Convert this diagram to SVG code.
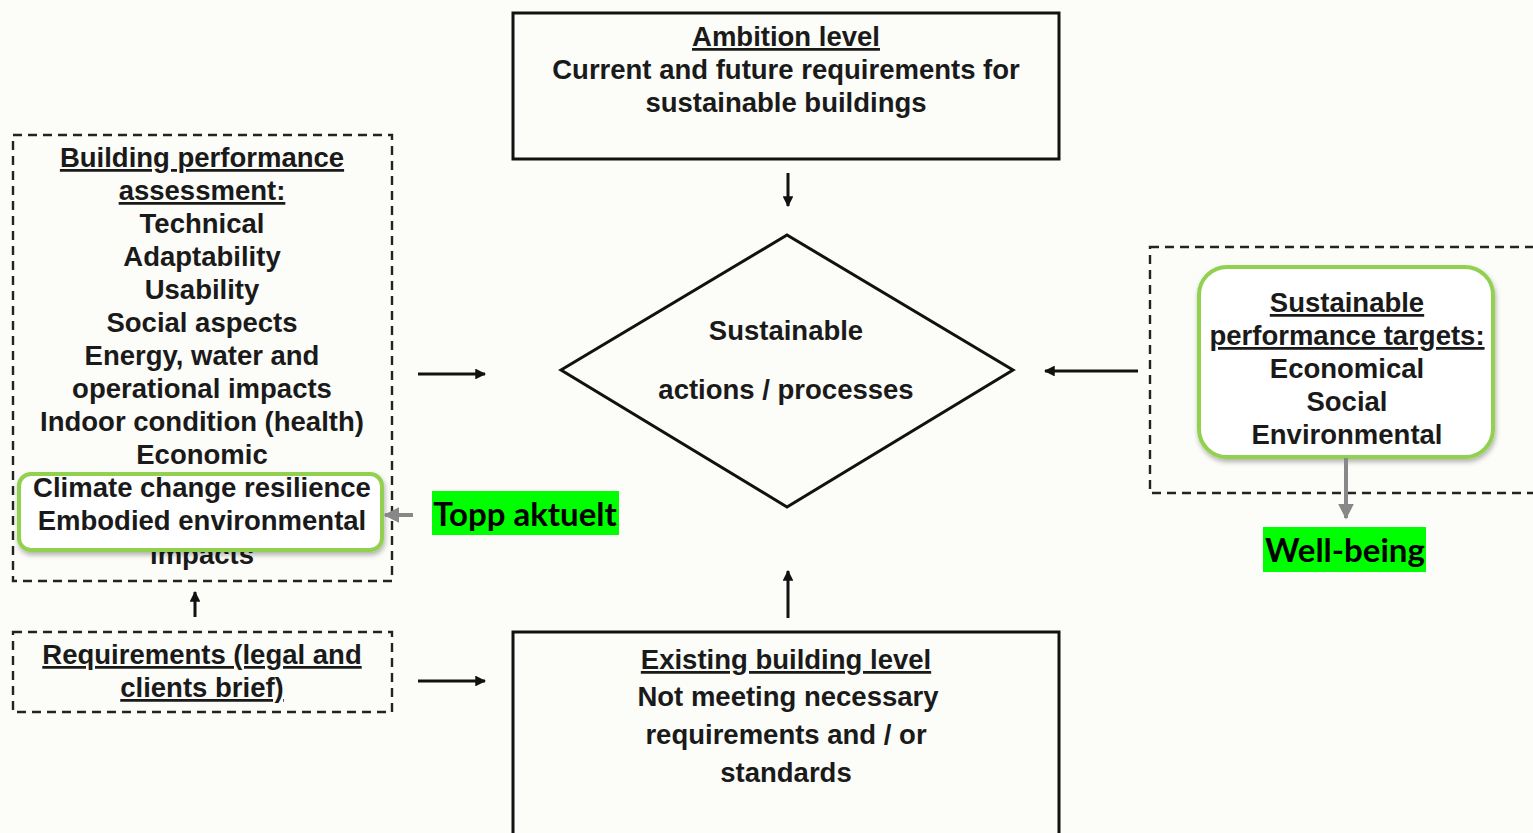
<svg xmlns="http://www.w3.org/2000/svg" width="1533" height="833" viewBox="0 0 1533 833">
<style>
.t{font-family:"Liberation Sans",Arial,sans-serif;font-weight:bold;font-size:27.5px;fill:#1a1a1a;text-anchor:middle}
.u{text-decoration:underline}
.box{fill:none;stroke:#111;stroke-width:3}
.dash{fill:none;stroke:#222;stroke-width:2.4;stroke-dasharray:9 6}
.green{fill:#fff;stroke:#92d050;stroke-width:4;filter:url(#sh)}
.con{stroke:#111;stroke-width:3;fill:none;marker-end:url(#ah)}
.gcon{stroke:#888;stroke-width:4;fill:none;marker-end:url(#gh)}
.hl{font-family:"Lato","Open Sans",sans-serif;font-weight:bold;font-size:33px;fill:#000;text-anchor:middle}
</style>
<defs>
<marker id="ah" viewBox="0 0 10 10" refX="9" refY="5" markerWidth="3.6" markerHeight="3.6" orient="auto" markerUnits="strokeWidth"><path d="M0,0 L10,5 L0,10 z" fill="#111"/></marker>
<marker id="gh" viewBox="0 0 10 10" refX="9" refY="5" markerWidth="4" markerHeight="4" orient="auto" markerUnits="strokeWidth"><path d="M0,0 L10,5 L0,10 z" fill="#888"/></marker>
<filter id="sh" x="-10%" y="-10%" width="120%" height="130%"><feDropShadow dx="1" dy="3" stdDeviation="2.5" flood-color="#000" flood-opacity="0.3"/></filter>
</defs>
<rect width="1533" height="833" fill="#fcfcf8"/>

<g id="ambition">
<rect class="box" x="513" y="13" width="546" height="146"/>
<text class="t u" x="786" y="46">Ambition level</text>
<text class="t" x="786" y="79">Current and future requirements for</text>
<text class="t" x="786" y="112">sustainable buildings</text>
</g>

<g id="actions">
<polygon class="box" points="561,370 787,235 1013,370 787,507"/>
<text class="t" x="786" y="340">Sustainable</text>
<text class="t" x="786" y="399">actions / processes</text>
</g>

<g id="assessment">
<rect class="dash" x="13" y="135" width="379" height="446"/>
<text class="t u" x="202" y="167">Building performance</text>
<text class="t u" x="202" y="200">assessment:</text>
<text class="t" x="202" y="233">Technical</text>
<text class="t" x="202" y="266">Adaptability</text>
<text class="t" x="202" y="299">Usability</text>
<text class="t" x="202" y="332">Social aspects</text>
<text class="t" x="202" y="365">Energy, water and</text>
<text class="t" x="202" y="398">operational impacts</text>
<text class="t" x="202" y="431">Indoor condition (health)</text>
<text class="t" x="202" y="464">Economic</text>
<text class="t" x="202" y="564">impacts</text>
<rect class="green" x="19" y="474" width="363" height="76" rx="12"/>
<text class="t" x="202" y="497">Climate change resilience</text>
<text class="t" x="202" y="530">Embodied environmental</text>
</g>

<g id="topp">
<rect x="432" y="491" width="187" height="44" fill="#00ff00"/>
<text class="hl" x="525" y="526">Topp aktuelt</text>
</g>

<g id="requirements">
<rect class="dash" x="13" y="632" width="379" height="80"/>
<text class="t u" x="202" y="664">Requirements (legal and</text>
<text class="t u" x="202" y="697">clients brief)</text>
</g>

<g id="existing">
<rect class="box" x="513" y="632" width="546" height="220"/>
<text class="t u" x="786" y="669">Existing building level</text>
<text class="t" x="788" y="706">Not meeting necessary</text>
<text class="t" x="786" y="744">requirements and / or</text>
<text class="t" x="786" y="782">standards</text>
</g>

<g id="targets">
<rect class="dash" x="1150" y="247" width="400" height="246"/>
<rect class="green" x="1199" y="267" width="294" height="190" rx="28"/>
<text class="t u" x="1347" y="312">Sustainable</text>
<text class="t u" x="1347" y="345">performance targets:</text>
<text class="t" x="1347" y="378">Economical</text>
<text class="t" x="1347" y="411">Social</text>
<text class="t" x="1347" y="444">Environmental</text>
</g>

<g id="wellbeing">
<rect x="1263" y="527" width="163" height="45" fill="#00ff00"/>
<text class="hl" x="1345" y="562">Well-being</text>
</g>

<g id="connectors">
<line class="con" x1="788" y1="173" x2="788" y2="206"/>
<line class="con" x1="418" y1="374" x2="485" y2="374"/>
<line class="con" x1="1138" y1="371" x2="1045" y2="371"/>
<line class="con" x1="788" y1="618" x2="788" y2="571"/>
<line class="con" x1="195" y1="617" x2="195" y2="592"/>
<line class="con" x1="418" y1="681" x2="485" y2="681"/>
<line class="gcon" x1="413" y1="515" x2="385" y2="515"/>
<line class="gcon" x1="1346" y1="458" x2="1346" y2="518"/>
</g>
</svg>
